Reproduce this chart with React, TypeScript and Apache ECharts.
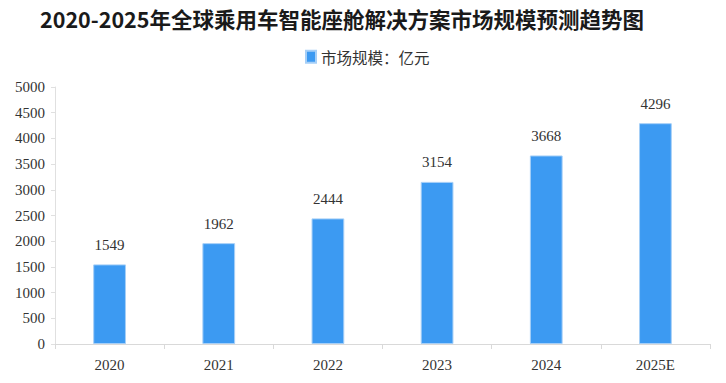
import React, { useEffect, useRef } from "react";
import * as echarts from "echarts";

const categories = ["2020", "2021", "2022", "2023", "2024", "2025E"];
const marketSize = [1549, 1962, 2444, 3154, 3668, 4296];
const seriesName = "市场规模：亿元";
const titleText = "2020-2025年全球乘用车智能座舱解决方案市场规模预测趋势图";

export default function App() {
  const ref = useRef<HTMLDivElement>(null);
  useEffect(() => {
    if (!ref.current) return;
    const chart = echarts.init(ref.current, null, { renderer: "svg" });
    const numFont = "'Liberation Serif', 'Noto Sans CJK SC', serif";
    chart.setOption({
      animation: false,
      backgroundColor: "#ffffff",
      title: {
        text: titleText,
        left: 337,
        textAlign: "center",
        top: 3,
        textStyle: {
          fontSize: 21.5,
          fontWeight: "bold",
          color: "#1a1a1a",
          fontFamily: "'Noto Sans CJK SC', sans-serif",
        },
      },
      legend: {
        top: 44,
        left: 300,
        itemWidth: 10,
        itemHeight: 12,
        itemGap: 10,
        data: [{ name: seriesName, icon: "rect" }],
        textStyle: {
          fontSize: 15.5,
          color: "#333",
          fontFamily: "'Noto Sans CJK SC', sans-serif",
        },
      },
      grid: { left: 55, right: 16, top: 87, bottom: 39, containLabel: false },
      xAxis: {
        type: "category",
        data: categories,
        axisLine: { lineStyle: { color: "#d9d9d9", width: 1 } },
        axisTick: { show: true, length: 5, lineStyle: { color: "#d9d9d9" } },
        axisLabel: { fontSize: 15, color: "#333", margin: 13, fontFamily: numFont },
      },
      yAxis: {
        type: "value",
        min: 0,
        max: 5000,
        interval: 500,
        splitLine: { show: false },
        axisLine: { show: true, lineStyle: { color: "#e0e0e0", width: 1 } },
        axisTick: { show: true, length: 4, lineStyle: { color: "#e0e0e0" } },
        axisLabel: {
          fontSize: 15,
          color: "#333",
          margin: 10,
          fontFamily: numFont,
          formatter: (v: number) => String(v),
        },
      },
      series: [
        {
          name: seriesName,
          type: "bar",
          data: marketSize,
          barWidth: "30%",
          itemStyle: { color: "#3c9af2", borderColor: "#a6cff7", borderWidth: 1 },
          label: {
            show: true,
            position: "top",
            distance: 12,
            fontSize: 15,
            color: "#333",
            fontFamily: numFont,
          },
        },
      ],
    });
    return () => chart.dispose();
  }, []);
  return <div ref={ref} style={{ width: 726, height: 383, position: "absolute", left: 0, top: 0 }} />;
}
